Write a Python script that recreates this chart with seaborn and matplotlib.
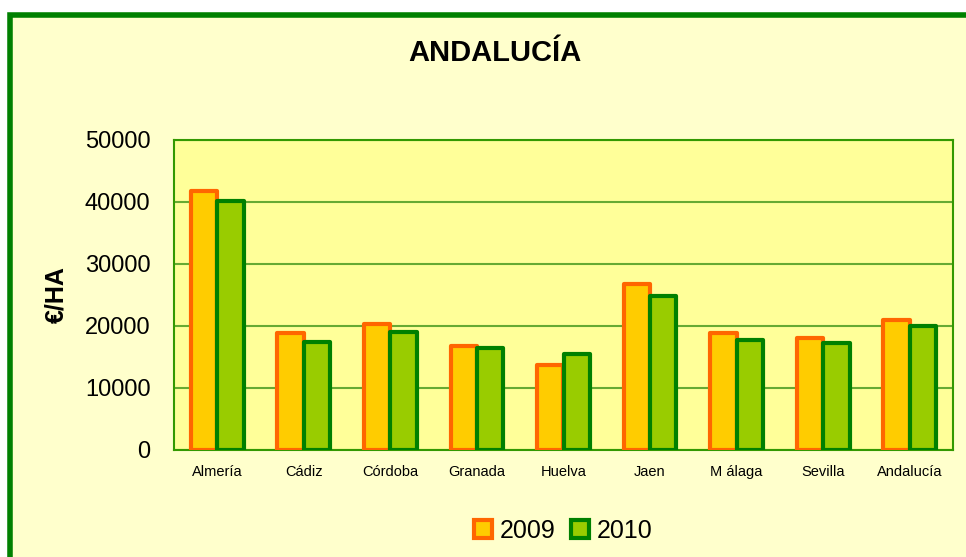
import numpy as np
import matplotlib
matplotlib.use("Agg")
import matplotlib.pyplot as plt
from matplotlib.patches import Rectangle, Patch
import seaborn as sns
import pandas as pd

# Data
provincias = ["Almería", "Cádiz", "Córdoba", "Granada", "Huelva",
              "Jaen", "M álaga", "Sevilla", "Andalucía"]
valores_2009 = [41700, 18800, 20400, 16800, 13700, 26800, 18800, 18100, 21000]
valores_2010 = [40100, 17500, 19100, 16500, 15500, 24900, 17800, 17200, 20000]
anios = ["2009", "2010"]
y_ticks = [0, 10000, 20000, 30000, 40000, 50000]

df = pd.DataFrame({
    "provincia": provincias * 2,
    "anio": ["2009"] * len(provincias) + ["2010"] * len(provincias),
    "valor": valores_2009 + valores_2010,
})

fill_colors = {"2009": "#FFCC00", "2010": "#99CC00"}
edge_colors = {"2009": "#FF6600", "2010": "#008000"}

sns.set_theme(style="white")
plt.rcParams["font.family"] = ["Liberation Sans", "DejaVu Sans"]
plt.rcParams["text.color"] = "black"
plt.rcParams["xtick.color"] = "black"
plt.rcParams["ytick.color"] = "black"
plt.rcParams["axes.labelcolor"] = "black"

fig = plt.figure(figsize=(9.66, 5.57), dpi=100)
fig.patch.set_facecolor("white")

# green outer frame (runs off the right and bottom edges)
frame = Rectangle((10 / 966, -0.05), 1.05, 1 - 15 / 557 + 0.05,
                  transform=fig.transFigure, facecolor="#FFFFCC",
                  edgecolor="#008000", linewidth=4, zorder=-5)
fig.patches.append(frame)

ax = fig.add_axes([174 / 966, 1 - 450 / 557, (953 - 174) / 966, (450 - 140) / 557])
ax.set_zorder(2)
ax.set_facecolor("#FFFF99")

sns.barplot(data=df, x="provincia", y="valor", hue="anio", order=provincias,
            hue_order=anios, palette=fill_colors, width=0.61, gap=0,
            saturation=1, ax=ax, legend=False, zorder=3)

for cont, anio in zip(ax.containers, anios):
    for bar in cont:
        bar.set_edgecolor(edge_colors[anio])
        bar.set_linewidth(3)
        bar.set_joinstyle("round")

ax.set_ylim(0, 50000)
ax.set_yticks(y_ticks)
ax.set_yticklabels([str(t) for t in y_ticks], fontsize=17)
ax.set_xlim(-0.5, len(provincias) - 0.5)
ax.set_xticks(range(len(provincias)))
ax.set_xticklabels(provincias, fontsize=10.5)
ax.set_xticks(np.arange(-0.5, len(provincias), 1), minor=True)
ax.tick_params(axis="x", which="major", length=0, pad=11)
ax.tick_params(axis="x", which="minor", length=6, width=1.2, color="#339900", direction="out")
ax.tick_params(axis="y", length=8, width=1.2, color="#66BB33", direction="out", pad=9)
for lbl in ax.get_xticklabels() + ax.get_yticklabels():
    lbl.set_color("black")

ax.yaxis.grid(True, color="#66AA33", linewidth=1.5)
ax.set_axisbelow(True)
for s in ax.spines.values():
    s.set_color("#339900")
    s.set_linewidth(1.5)
    s.set_visible(True)

ax.set_xlabel("")
ax.set_ylabel("€/HA", fontsize=18, fontweight="bold", labelpad=12, color="black")

fig.text(495 / 966, 1 - 53 / 557, "ANDALUCÍA", ha="center", va="center",
         fontsize=21, fontweight="bold", color="black",
         family=["Liberation Sans Narrow", "Liberation Sans", "DejaVu Sans"])

handles = [Patch(facecolor=fill_colors[a], edgecolor=edge_colors[a], linewidth=3) for a in anios]
fig.legend(handles, anios, loc="center", bbox_to_anchor=(563 / 966, 1 - 531 / 557),
           ncol=2, frameon=False, fontsize=18, handlelength=0.75, handleheight=0.75,
           handletextpad=0.3, columnspacing=0.6)

plt.savefig("out.png", dpi=100, facecolor=fig.get_facecolor())
